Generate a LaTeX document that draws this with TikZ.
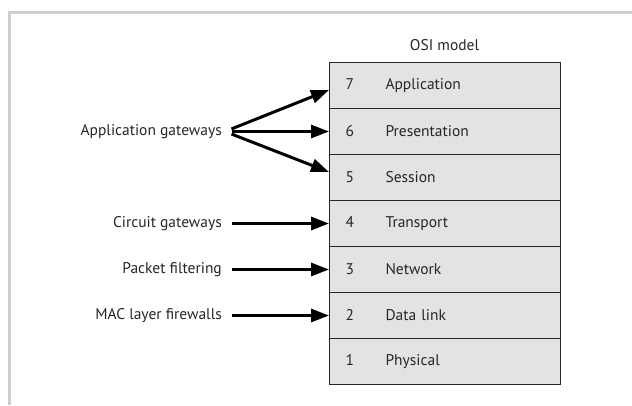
\documentclass[tikz,border=0pt]{standalone}
\usepackage{fontspec}
\setmainfont{PT Sans}
\usetikzlibrary{arrows.meta}

\tikzset{
  layer/.style={draw=black!85, fill=black!11, line width=1.1pt, rectangle,
    minimum width=231pt, minimum height=46pt, text width=199pt,
    inner xsep=16pt, align=left, anchor=west},
  usage/.style={anchor=east, inner sep=3pt},
  pointer/.style={line width=3pt, shorten <=7pt,
    -{Triangle[length=18pt,width=13pt]}},
}

\begin{document}
\begin{tikzpicture}[x=1pt, y=-1pt, font=\fontsize{15.5}{18}\selectfont, text=black!85]
\useasboundingbox (0,0) rectangle (632,405);
\draw [black!19, line width=3pt] (632,12.5) -- (9.5,12.5) -- (9.5,405);

\node               (title) at (444.5,45) {OSI model};
\node [layer]       (l7)    at (329,85.5)  {\makebox[40pt][l]{7}Application};
\node [layer]       (l6)    at (329,131.5) {\makebox[40pt][l]{6}Presentation};
\node [layer]       (l5)    at (329,177.5) {\makebox[40pt][l]{5}Session};
\node [layer]       (l4)    at (329,223.5) {\makebox[40pt][l]{4}Transport};
\node [layer]       (l3)    at (329,269.5) {\makebox[40pt][l]{3}Network};
\node [layer]       (l2)    at (329,315.5) {\makebox[40pt][l]{2}Data link};
\node [layer]       (l1)    at (329,361.5) {\makebox[40pt][l]{1}Physical};

\node [usage]       (appgw) at (225,131.5) {Application gateways};
\node [usage]       (circ)  at (225,223.5) {Circuit gateways};
\node [usage]       (pkt)   at (225,269.5) {Packet filtering};
\node [usage]       (mac)   at (225,315.5) {MAC layer firewalls};

\draw [pointer] (appgw.east) -- ([yshift=-4.5pt]l7.west);
\draw [pointer] (appgw.east) -- (l6.west);
\draw [pointer] (appgw.east) -- ([yshift=5.5pt]l5.west);
\draw [pointer] (circ.east)  -- (l4.west);
\draw [pointer] (pkt.east)   -- (l3.west);
\draw [pointer] (mac.east)   -- (l2.west);
\end{tikzpicture}
\end{document}
